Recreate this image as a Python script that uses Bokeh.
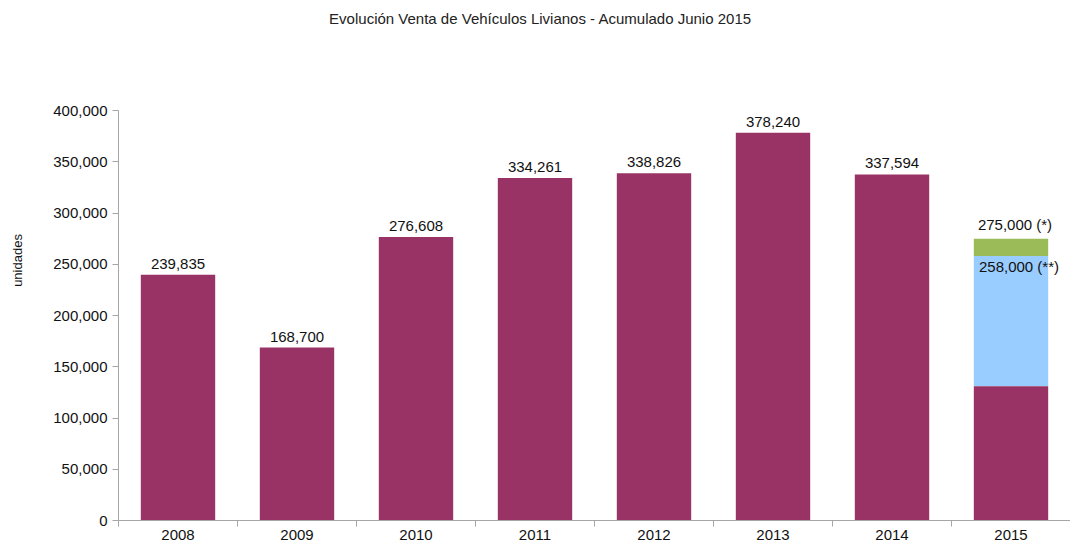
from bokeh.plotting import figure
from bokeh.models import ColumnDataSource, FixedTicker, NumeralTickFormatter, LabelSet, Range1d, Label
from bokeh.core.properties import value
from bokeh.embed import file_html
from bokeh.resources import INLINE

years = ["2008", "2009", "2010", "2011", "2012", "2013", "2014", "2015"]
ventas = [239835, 168700, 276608, 334261, 338826, 378240, 337594, 131000]
labels = ["239,835", "168,700", "276,608", "334,261", "338,826", "378,240", "337,594", ""]
proy_low = 258000   # (**)
proy_high = 275000  # (*)
proy_low_label = "258,000 (**)"
proy_high_label = "275,000 (*)"
title_text = "Evolución Venta de Vehículos Livianos - Acumulado Junio 2015"
y_max = 400000

FONT = "Liberation Sans"
PURPLE = "#993366"
BLUE = "#99CCFF"
GREEN = "#9BBB59"
AXIS = "#a6a6a6"

xs = list(range(1, len(years) + 1))
n = len(years)
W_FIG, H_FIG = 1070, 545
B_LEFT, B_BOTTOM = 118, 25
AXIS_TOP_PX = 110  # pixel row where the 400,000 tick sits
frame_h = H_FIG - B_BOTTOM
y_top = y_max * frame_h / (frame_h - AXIS_TOP_PX)  # extra headroom inside the frame for the title

p = figure(width=W_FIG, height=H_FIG, output_backend="svg", toolbar_location=None,
           x_range=Range1d(0.5, n + 0.5), y_range=Range1d(0, y_top),
           min_border_left=B_LEFT, min_border_right=0, min_border_bottom=B_BOTTOM, min_border_top=0)
p.outline_line_color = None
p.grid.grid_line_color = None
p.background_fill_color = "white"

# chart title at the top of the frame
p.add_layout(Label(x=(n + 1) / 2, y=y_top, x_offset=-54, y_offset=-18,
                   text=title_text, text_align="center", text_baseline="middle", text_font=FONT,
                   text_font_size="15px", text_color="#222222"))

src = ColumnDataSource(dict(x=xs, v=ventas, lab=labels))
W = 0.625
p.vbar(x=xs[-1], bottom=ventas[-1], top=proy_low, width=W, fill_color=BLUE, line_color=None)
p.vbar(x=xs[-1], bottom=proy_low, top=proy_high, width=W, fill_color=GREEN, line_color=None)
p.vbar(x="x", top="v", width=W, source=src, fill_color=PURPLE, line_color=None)

ls = LabelSet(x="x", y="v", text="lab", source=src, text_align="center", text_baseline="bottom",
              y_offset=6, text_font=value(FONT), text_font_size=value("15px"), text_color=value("#111111"))
p.add_layout(ls)
p.add_layout(Label(x=xs[-1], y=proy_high, text=proy_high_label, text_align="center", text_baseline="bottom",
                   x_offset=4, y_offset=6, text_font=FONT, text_font_size="15px", text_color="#111111"))
p.add_layout(Label(x=xs[-1], y=proy_low, text=proy_low_label, text_align="center", text_baseline="top",
                   x_offset=8, y_offset=-2, text_font=FONT, text_font_size="15px", text_color="#111111"))

p.xaxis.ticker = FixedTicker(ticks=xs, minor_ticks=[i + 0.5 for i in range(0, n + 1)])
p.xaxis.major_label_overrides = {x: y for x, y in zip(xs, years)}
p.xaxis.major_tick_out = 0
p.xaxis.major_tick_in = 0
p.xaxis.minor_tick_out = 6
p.xaxis.minor_tick_in = 0
p.xaxis.minor_tick_line_color = AXIS
p.xaxis.axis_line_color = AXIS
p.xaxis.major_label_text_font = FONT
p.xaxis.major_label_text_font_size = "15px"
p.xaxis.major_label_text_color = "#111111"
p.xaxis.major_label_standoff = 3

p.yaxis.ticker = FixedTicker(ticks=list(range(0, y_max + 1, 50000)))
p.yaxis.bounds = (0, y_max)
p.yaxis.formatter = NumeralTickFormatter(format="0,0")
p.yaxis.minor_tick_line_color = None
p.yaxis.major_tick_out = 6
p.yaxis.major_tick_in = 0
p.yaxis.major_tick_line_color = AXIS
p.yaxis.axis_line_color = AXIS
p.yaxis.major_label_text_font = FONT
p.yaxis.major_label_text_font_size = "15px"
p.yaxis.major_label_text_color = "#111111"
p.yaxis.major_label_standoff = 5
p.yaxis.axis_label = "unidades"
p.yaxis.axis_label_text_font = FONT
p.yaxis.axis_label_text_font_size = "13px"
p.yaxis.axis_label_text_font_style = "normal"
p.yaxis.axis_label_text_color = "#111111"
p.yaxis.axis_label_standoff = 25

open("out.html", "w").write(file_html(p, INLINE))
